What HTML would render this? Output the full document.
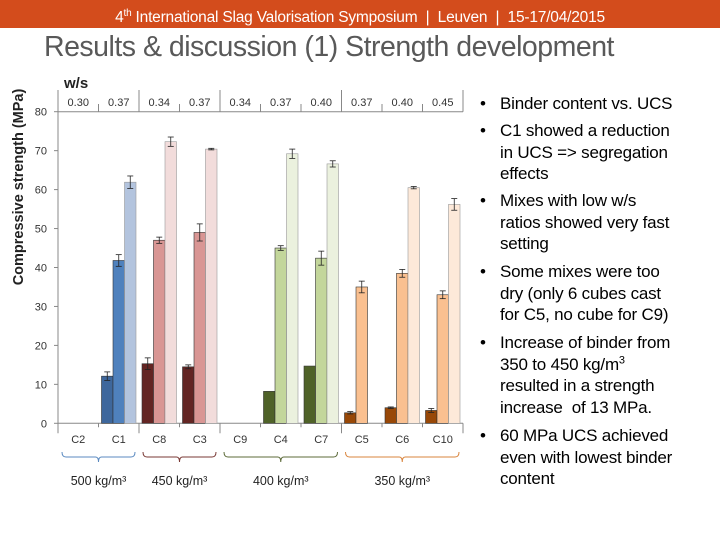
<!DOCTYPE html>
<html><head><meta charset="utf-8"><style>
body{margin:0;width:720px;height:540px;overflow:hidden;background:#fff;font-family:"Liberation Sans",sans-serif;position:relative}
#hdr{position:absolute;left:0;top:0;width:720px;height:28px;background:#d34c1c;color:#fff;font-size:15.5px;text-align:center;line-height:28px;letter-spacing:-0.2px}
#title{position:absolute;left:44px;top:31px;font-size:28.5px;color:#595959;letter-spacing:-0.5px;white-space:nowrap}
.b{position:absolute;left:478px;padding-left:22px;font-size:17px;color:#000;line-height:21.5px;white-space:nowrap;letter-spacing:-0.2px}
.b:before{content:"•";position:absolute;left:2px}
svg{position:absolute;left:0;top:0}
</style></head><body>
<div id="hdr">4<sup style="font-size:10px">th</sup> International Slag Valorisation Symposium &nbsp;|&nbsp; Leuven &nbsp;|&nbsp; 15-17/04/2015</div>
<div id="title">Results &amp; discussion (1) Strength development</div>
<div class="b" style="top:93px">Binder content vs. UCS</div>
<div class="b" style="top:120px">C1 showed a reduction<br>in UCS =&gt; segregation<br>effects</div>
<div class="b" style="top:190px">Mixes with low w/s<br>ratios showed very fast<br>setting</div>
<div class="b" style="top:261px">Some mixes were too<br>dry (only 6 cubes cast<br>for C5, no cube for C9)</div>
<div class="b" style="top:332px">Increase of binder from<br>350 to 450 kg/m<sup style="font-size:11px;line-height:0">3</sup><br>resulted in a strength<br>increase&nbsp; of 13 MPa.</div>
<div class="b" style="top:425px">60 MPa UCS achieved<br>even with lowest binder<br>content</div>
<svg id="chart" width="720" height="540"></svg>
<script>
const categories=["C2","C1","C8","C3","C9","C4","C7","C5","C6","C10"];
const wsLabels=["0.30","0.37","0.34","0.37","0.34","0.37","0.40","0.37","0.40","0.45"];
const groupOf=[0,0,1,1,2,2,2,3,3,3];
const s1=[0,12.1,15.3,14.5,0,8.2,14.7,2.7,4.0,3.3];
const s2=[0,41.8,47.0,49.0,0,45.0,42.4,35.0,38.5,33.0];
const s3=[0,61.9,72.3,70.4,0,69.2,66.6,null,60.5,56.2];
const e1=[0,1.1,1.5,0.5,0,0,0,0.3,0.2,0.5];
const e2=[0,1.5,0.8,2.2,0,0.6,1.8,1.5,1.0,1.0];
const e3=[0,1.6,1.2,0.2,0,1.2,0.8,0,0.3,1.5];
const yTicks=[0,10,20,30,40,50,60,70,80];
const groupLabels=["500 kg/m³","450 kg/m³","400 kg/m³","350 kg/m³"];
const groupSpans=[[0,1],[2,3],[4,6],[7,9]];
const colors=[["#3e679c","#4f81bd","#b3c4de"],["#632523","#d99694","#f2dcdb"],["#4f6228","#c3d69b","#ebf1de"],["#984807","#fac090","#fde9d9"]];
const bracketCol=["#5b8ac0","#7a3a36","#5d6b3a","#d9853d"];
const svg=document.getElementById('chart');const NS="http://www.w3.org/2000/svg";
const X0=58,X1=463,Y0=423.3,Y80=111.7;
const cw=(X1-X0)/categories.length;
const y=v=>Y0-(v/80)*(Y0-Y80);
const xc=i=>X0+cw*(i+0.5);
function mk(t,a,txt){const e=document.createElementNS(NS,t);for(const k in a)e.setAttribute(k,a[k]);if(txt!=null)e.textContent=txt;svg.appendChild(e);return e;}
const F='"Liberation Sans",sans-serif';
let ax=mk('line',{x1:X0,y1:Y80,x2:X0,y2:Y0+4,stroke:'#888'});
let bx=mk('line',{x1:X0,y1:Y0,x2:X1,y2:Y0,stroke:'#888'});
mk('line',{x1:X0,y1:Y80,x2:X1,y2:Y80,stroke:'#888'});
mk('line',{x1:X1,y1:90,x2:X1,y2:Y80,stroke:'#888'});
yTicks.forEach(t=>{mk('line',{x1:X0-4,y1:y(t),x2:X0,y2:y(t),stroke:'#888'});
let l=mk('text',{x:X0-11,y:y(t)+4,'text-anchor':'end','font-size':11,'font-family':F,fill:'#333'},t);});
let yt=mk('text',{x:23,y:187,'text-anchor':'middle','font-size':14.5,'font-weight':'bold','font-family':F,fill:'#222',transform:'rotate(-90 23 187)'},'Compressive strength (MPa)');

let ws=mk('text',{x:64,y:88,'font-size':15,'font-weight':'bold','font-family':F,fill:'#222'},'w/s');
categories.forEach((c,i)=>{
 const g=groupOf[i];
 const sep=(i===0||groupOf[i-1]!==g);
 mk('line',{x1:X0+cw*i,y1:sep?90:104,x2:X0+cw*i,y2:Y80,stroke:'#888'});
 mk('line',{x1:X0+cw*i,y1:Y0,x2:X0+cw*i,y2:Y0+(sep?10:4),stroke:'#888'});
 let w=mk('text',{x:xc(i),y:106,'text-anchor':'middle','font-size':11,'font-family':F,fill:'#333'},wsLabels[i]);
 let cl=mk('text',{x:xc(i),y:443,'text-anchor':'middle','font-size':11,'font-family':F,fill:'#333'},c);
 const bw=11.5;
 [[s1,e1],[s2,e2],[s3,e3]].forEach((se,k)=>{
  const v=se[0][i];if(v==null||v===0)return;
  const bx0=xc(i)-1.5*bw+k*bw;
  let r=mk('rect',{x:bx0,y:y(v),width:bw,height:Y0-y(v),fill:colors[g][k],stroke:k===2?'#999':'#333','stroke-width':0.6});
  
  const e=se[1][i];if(e>0){const cx=bx0+bw/2;
   mk('line',{x1:cx,y1:y(v+e),x2:cx,y2:y(v-e),stroke:'#222','stroke-width':0.8});
   mk('line',{x1:cx-3,y1:y(v+e),x2:cx+3,y2:y(v+e),stroke:'#222','stroke-width':0.8});
   mk('line',{x1:cx-3,y1:y(v-e),x2:cx+3,y2:y(v-e),stroke:'#222','stroke-width':0.8});}
 });
});
mk('line',{x1:X1,y1:Y0,x2:X1,y2:Y0+10,stroke:'#888'});
groupSpans.forEach((s,gi)=>{
 const a=X0+cw*s[0]+4,b=X0+cw*(s[1]+1)-4,m=(a+b)/2;
 let p=mk('path',{d:`M${a},452 q0,5 4,5 L${m-3},457 q3,0 3,5 q0,-5 3,-5 L${b-4},457 q4,0 4,-5`,fill:'none',stroke:bracketCol[gi],'stroke-width':1});
 
 let t=mk('text',{x:m,y:485,'text-anchor':'middle','font-size':12.5,'font-family':F,fill:'#222'},groupLabels[gi]);
 
});
</script>
</body></html>
